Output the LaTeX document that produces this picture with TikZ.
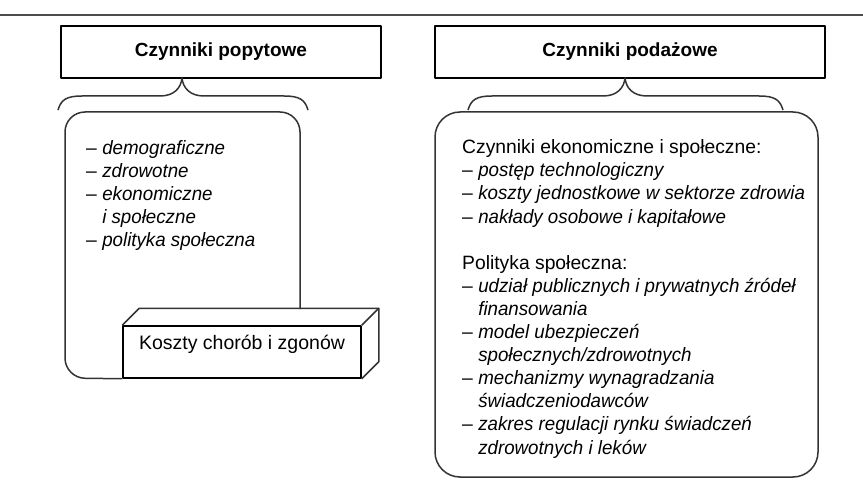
\documentclass[tikz,border=0pt]{standalone}
\usepackage{fontspec}
\setmainfont{Liberation Sans}[ItalicFeatures={FakeStretch=0.97}]
\usetikzlibrary{positioning,calc}

\tikzset{
	tytul/.style={draw,line width=1.9pt,minimum height=52pt,inner sep=0pt,font=\fontsize{19}{22}\selectfont\bfseries},
	lista/.style={anchor=base west,align=left,inner sep=0pt,font=\fontsize{19.3}{23.1}\selectfont},
	ramka/.style={line width=1.5pt,black!80},
	klamra/.style={line width=1.5pt,black!80}
}

\begin{document}
	\begin{tikzpicture}[x=1pt,y=-1pt,line join=round]
		\useasboundingbox (0,0) rectangle (863,492);
		\draw[line width=1.8pt,black!70] (0,15) -- (863,15);

		\begin{scope}[every node/.style={tytul}]
			\node[minimum width=320pt] (popyt) at (221,52) {Czynniki popytowe};
			\node[minimum width=390pt] (podaz) at (630,52) {Czynniki podażowe};
		\end{scope}

		\coordinate (klewa1) at (58,110);
		\coordinate (kszpic1) at (182,78);
		\coordinate (kprawa1) at (308,110);
		\coordinate (klewa2) at (468,110);
		\coordinate (kszpic2) at (625,78);
		\coordinate (kprawa2) at (783,110);

		\node[ramka,draw,inner sep=8pt,minimum width=238pt,minimum height=52pt,text height=15pt,text depth=21pt,font=\fontsize{19.5}{23.1}\selectfont,black] (koszty) at (242,352) {Koszty chorób i zgonów};
		\node[ramka,draw,rounded corners=25pt,inner sep=0pt,minimum width=383pt,minimum height=365pt] (podazramka) at (626.5,294.5) {};

		\begin{scope}[ramka]
			\draw[rounded corners=20pt] (koszty.south west) -- (65,378) -- (65,112) -- (300,112) -- (300,309);
			\draw (koszty.north west) -- ++(17,-17) -- ($(koszty.north east)+(17,-17)$) -- ($(koszty.south east)+(17,-17)$) -- (koszty.south east);
			\draw (koszty.north east) -- ++(17,-17);
		\end{scope}

		% base = baseline of the last line
		\begin{scope}[every node/.style={lista}]
			\node (popytlista) at (86,247) {– \textit{demograficzne}\\
				– \textit{zdrowotne}\\
				– \textit{ekonomiczne}\\
				\hphantom{– }\textit{i społeczne}\\
				– \textit{polityka społeczna}};
			\node (podazlista) at (462,454) {Czynniki ekonomiczne i społeczne:\\
				– \textit{postęp technologiczny}\\
				– \textit{koszty jednostkowe w sektorze zdrowia}\\
				– \textit{nakłady osobowe i kapitałowe}\\[23.1pt]
				Polityka społeczna:\\
				– \textit{udział publicznych i prywatnych źródeł}\\
				\hphantom{– }\textit{finansowania}\\
				– \textit{model ubezpieczeń}\\
				\hphantom{– }\textit{społecznych/zdrowotnych}\\
				– \textit{mechanizmy wynagradzania}\\
				\hphantom{– }\textit{świadczeniodawców}\\
				– \textit{zakres regulacji rynku świadczeń}\\
				\hphantom{– }\textit{zdrowotnych i leków}};
		\end{scope}

		\begin{scope}[klamra]
			\draw (klewa1) .. controls +(3,-10) and +(-16,0) .. ($(klewa1)+(24,-14)$) -- ($(kszpic1)+(-22,18)$) .. controls +(14,0) and +(-1,10) .. (kszpic1) .. controls +(1,10) and +(-14,0) .. ($(kszpic1)+(22,18)$) -- ($(kprawa1)+(-24,-14)$) .. controls +(16,0) and +(-3,-10) .. (kprawa1);
			\draw (klewa2) .. controls +(3,-10) and +(-16,0) .. ($(klewa2)+(24,-14)$) -- ($(kszpic2)+(-22,18)$) .. controls +(14,0) and +(-1,10) .. (kszpic2) .. controls +(1,10) and +(-14,0) .. ($(kszpic2)+(22,18)$) -- ($(kprawa2)+(-24,-14)$) .. controls +(16,0) and +(-3,-10) .. (kprawa2);
		\end{scope}
	\end{tikzpicture}
\end{document}
